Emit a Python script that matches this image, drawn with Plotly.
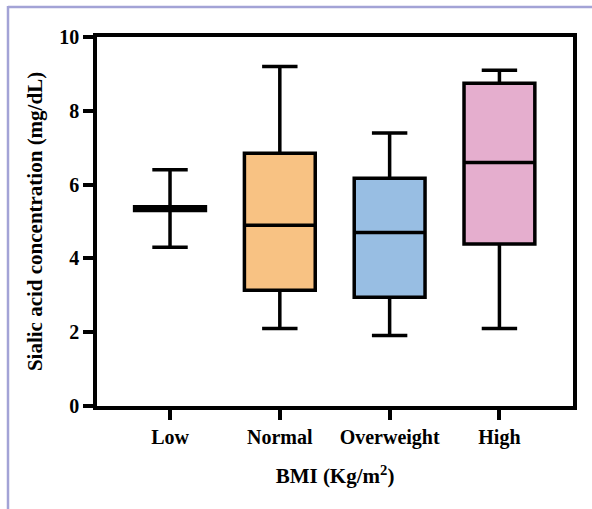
import plotly.graph_objects as go

categories = ["Low", "Normal", "Overweight", "High"]
q1_vals = [5.30, 3.14, 2.95, 4.39]
median_vals = [5.35, 4.90, 4.70, 6.60]
q3_vals = [5.40, 6.85, 6.17, 8.75]
min_vals = [4.30, 2.10, 1.91, 2.10]
max_vals = [6.40, 9.20, 7.40, 9.10]
fill_colors = ["#000000", "#F8C283", "#98BEE3", "#E5AECE"]

FONT = "Liberation Serif"

fig = go.Figure()
for i, cat in enumerate(categories):
    fig.add_trace(go.Box(
        x=[i],
        q1=[q1_vals[i]], median=[median_vals[i]], q3=[q3_vals[i]],
        lowerfence=[min_vals[i]], upperfence=[max_vals[i]],
        name=cat,
        width=0.645,
        whiskerwidth=0.5,
        fillcolor=fill_colors[i],
        line=dict(color="black", width=3.5),
        boxpoints=False,
        showlegend=False,
        hoverinfo="skip",
    ))

fig.update_layout(
    width=592, height=509,
    margin=dict(l=97, r=19, t=37, b=103),
    paper_bgcolor="white", plot_bgcolor="white",
    font=dict(family=FONT, size=20, color="black"),
    xaxis=dict(
        range=[-0.665, 3.67],
        tickmode="array", tickvals=list(range(len(categories))), ticktext=categories,
        showline=True, linecolor="black", linewidth=3.5, mirror=True,
        ticks="outside", ticklen=10, tickwidth=3.5, tickcolor="black",
        showgrid=False, zeroline=False,
        tickfont=dict(family=FONT, size=20, color="black", weight="bold"),
        title=dict(text="BMI (Kg/m<sup>2</sup>)", standoff=22,
                   font=dict(family=FONT, size=21, color="black", weight="bold")),
    ),
    yaxis=dict(
        range=[0, 10], tickvals=[0, 2, 4, 6, 8, 10],
        showline=True, linecolor="black", linewidth=3.5, mirror=True,
        ticks="outside", ticklen=10, tickwidth=3.5, tickcolor="black",
        showgrid=False, zeroline=False,
        tickfont=dict(family=FONT, size=20, color="black", weight="bold"),
        title=dict(text="Sialic acid concentration (mg/dL)", standoff=12,
                   font=dict(family=FONT, size=21, color="black", weight="bold")),
    ),
    shapes=[
        dict(type="line", xref="paper", yref="paper",
             x0=(8 - 97) / 476, x1=(600 - 97) / 476,
             y0=(406 - 7) / 369, y1=(406 - 7) / 369,
             line=dict(color="#A3A3D6", width=2.5), layer="above"),
        dict(type="line", xref="paper", yref="paper",
             x0=(8 - 97) / 476, x1=(8 - 97) / 476,
             y0=(406 - 6) / 369, y1=(406 - 520) / 369,
             line=dict(color="#A3A3D6", width=2.5), layer="above"),
    ],
)

fig.write_html(
    "out.html",
    config={"displayModeBar": False},
    post_script="document.body.style.margin='0';document.body.style.overflow='hidden';",
)
